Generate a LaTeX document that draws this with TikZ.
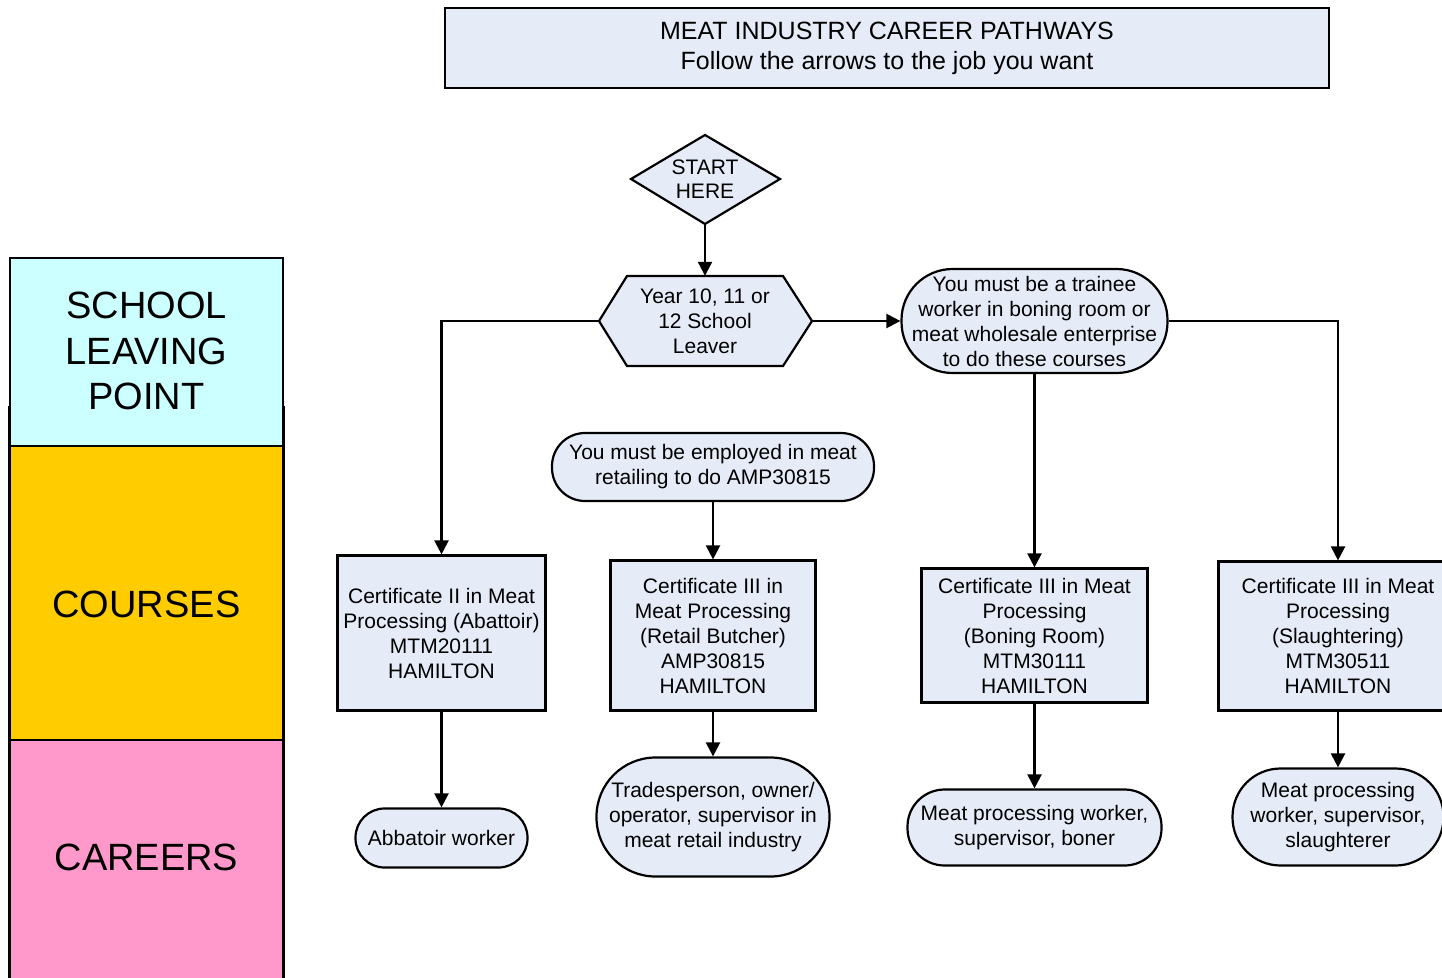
\documentclass[tikz,border=0pt]{standalone}
\usepackage{fontspec}
\setmainfont{Liberation Sans}
\usetikzlibrary{shapes.geometric,shapes.misc,arrows.meta}
\definecolor{boxfill}{RGB}{230,236,247}
\definecolor{bandcyan}{RGB}{204,255,255}
\definecolor{bandyellow}{RGB}{255,204,0}
\definecolor{bandpink}{RGB}{255,153,204}
\tikzset{
  box/.style={draw, fill=boxfill, line width=2.2pt, align=center, inner sep=0pt,
    font=\fontsize{21pt}{25pt}\selectfont},
  rectbox/.style={box, rectangle},
  pill/.style={box, rectangle, rounded corners=#1},
  ghost/.style={inner sep=0pt, align=center, font=\fontsize{21pt}{24pt}\selectfont},
  arr/.style={line width=2.2pt, -{Triangle[length=14pt,width=14pt]}},
  band/.style={draw, line width=2.2pt},
  bandtext/.style={align=center, font=\fontsize{38pt}{45.5pt}\selectfont},
  shapeline/.style={draw, fill=boxfill, line width=2.2pt, line join=miter}
}
\begin{document}
\begin{tikzpicture}[x=1pt,y=-1pt]
\useasboundingbox (0,0) rectangle (1442,977);
% left band
\draw[band] (9,407) rectangle (284,1000);
\draw[band, fill=bandcyan] (10,258) rectangle (283,446);
\draw[band, fill=bandyellow] (10,446) rectangle (283,740);
\draw[band, fill=bandpink] (10,740) rectangle (283,1000);
\node[bandtext] (slp) at (146.5,351) {SCHOOL\\LEAVING\\POINT};
\node[bandtext] (courses) at (146.5,604) {COURSES};
\node[bandtext] (careers) at (146.5,857) {CAREERS};
% title
\node[rectbox, minimum width=884pt, minimum height=80pt,
  font=\fontsize{25pt}{30pt}\selectfont] (title) at (887,48)
  {MEAT INDUSTRY CAREER PATHWAYS\\Follow the arrows to the job you want};
% start diamond
\path[shapeline] (631,179) -- (705,135) -- (780,179) -- (705,224) -- cycle;
\node[ghost, minimum width=149pt, minimum height=89pt] (start) at (705,179) {START\\HERE};
% hexagon
\path[shapeline] (599,321) -- (627,276) -- (783,276) -- (812,321) -- (783,366) -- (627,366) -- cycle;
\node[ghost, minimum width=213pt, minimum height=90pt, font=\fontsize{21pt}{25pt}\selectfont] (year) at (705,321) {Year 10, 11 or\\12 School\\Leaver};
% conditions
\node[pill=51pt, minimum width=266pt, minimum height=104pt] (trainee) at (1034.5,321)
  {You must be a trainee\\worker in boning room or\\meat wholesale enterprise\\to do these courses};
\node[pill=33pt, minimum width=322pt, minimum height=68pt] (retail) at (713,467)
  {You must be employed in meat\\retailing to do AMP30815};
% courses
\node[rectbox, minimum width=208pt, minimum height=155pt] (c2) at (441.5,633)
  {Certificate II in Meat\\Processing (Abattoir)\\MTM20111\\HAMILTON};
\node[rectbox, minimum width=205pt, minimum height=150pt] (c3r) at (713,635.5)
  {Certificate III in\\Meat Processing\\(Retail Butcher)\\AMP30815\\HAMILTON};
\node[rectbox, minimum width=226pt, minimum height=134pt] (c3b) at (1034.5,635.5)
  {Certificate III in Meat\\Processing\\(Boning Room)\\MTM30111\\HAMILTON};
\node[rectbox, minimum width=239pt, minimum height=149pt] (c3s) at (1338,636)
  {Certificate III in Meat\\Processing\\(Slaughtering)\\MTM30511\\HAMILTON};
% careers
\node[pill=29pt, minimum width=172pt, minimum height=59pt] (abb) at (441.5,838) {Abbatoir worker};
\node[pill=59pt, minimum width=233pt, minimum height=119pt] (trade) at (713,817)
  {Tradesperson, owner/\\operator, supervisor in\\meat retail industry};
\node[pill=37pt, minimum width=254pt, minimum height=76pt] (boner) at (1034.5,827.5)
  {Meat processing worker,\\supervisor, boner};
\node[pill=48pt, minimum width=211pt, minimum height=97pt] (slau) at (1338,817)
  {Meat processing\\worker, supervisor,\\slaughterer};
% connectors
\draw[arr] (start.south) -- (year.north);
\draw[arr] (year.east) -- (trainee.west);
\draw[arr] (year.west) -| (c2.north);
\draw[arr] (trainee.east) -| (c3s.north);
\draw[arr] (trainee.south) -- (c3b.north);
\draw[arr] (retail.south) -- (c3r.north);
\draw[arr] (c2.south) -- (abb.north);
\draw[arr] (c3r.south) -- (trade.north);
\draw[arr] (c3b.south) -- (boner.north);
\draw[arr] (c3s.south) -- (slau.north);
\end{tikzpicture}
\end{document}
